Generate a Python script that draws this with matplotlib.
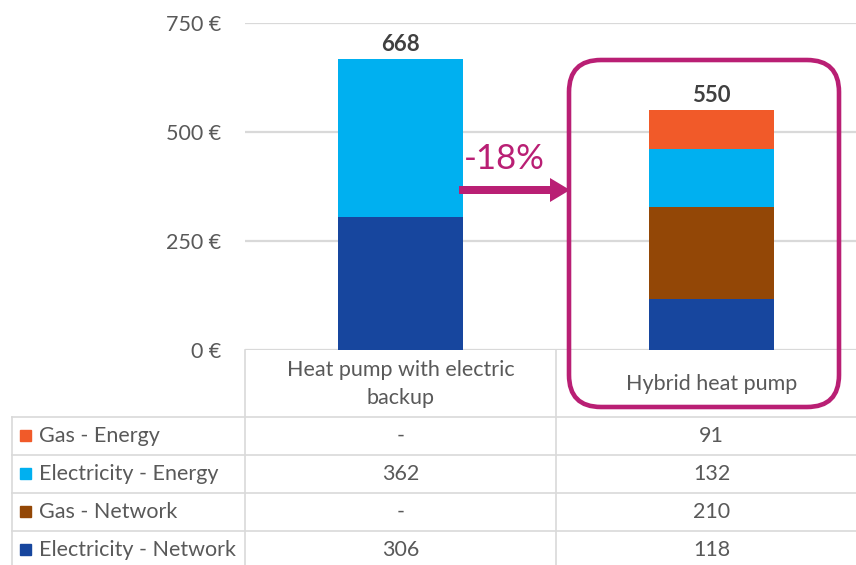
import numpy as np
import matplotlib
matplotlib.use('Agg')
import matplotlib.pyplot as plt
from matplotlib.patches import FancyBboxPatch, FancyArrow, Rectangle

plt.rcParams['font.family'] = ['Lato', 'DejaVu Sans']

# ---- data ----
categories = ['Heat pump with electric\nbackup', 'Hybrid heat pump']
series = ['Electricity - Network', 'Gas - Network', 'Electricity - Energy', 'Gas - Energy']
values = {
    'Electricity - Network': [306, 118],
    'Gas - Network': [0, 210],
    'Electricity - Energy': [362, 132],
    'Gas - Energy': [0, 91],
}
totals = [668, 550]
colors = {
    'Electricity - Network': '#17469e',
    'Gas - Network': '#934706',
    'Electricity - Energy': '#00b0f0',
    'Gas - Energy': '#f15a29',
}
table_order = ['Gas - Energy', 'Electricity - Energy', 'Gas - Network', 'Electricity - Network']
yticks = [0, 250, 500, 750]
change_label = '-18%'

W, H = 856, 565
GRAY = '#595959'
LINE = '#d9d9d9'
MAGENTA = '#b91f74'
FS = 15.5

fig = plt.figure(figsize=(W / 100, H / 100), dpi=100)

# chart axes, placed in pixel terms (extends a bit past right edge, as in the original)
ax_l, ax_r, ax_t, ax_b = 245, 867, 23, 350
ax = fig.add_axes([ax_l / W, (H - ax_b) / H, (ax_r - ax_l) / W, (ax_b - ax_t) / H])

x = np.arange(len(categories))
bottom = np.zeros(len(categories))
for s in series:
    v = np.array(values[s], dtype=float)
    ax.bar(x, v, width=0.4, bottom=bottom, color=colors[s], zorder=3)
    bottom += v

for xi, top, tot in zip(x, bottom, totals):
    ax.text(xi, top + 8, f'{tot}', ha='center', va='bottom', fontsize=16,
            fontweight='bold', color='#404040', zorder=4)

ax.set_xlim(-0.5, 1.5)
ax.set_ylim(0, 750)
ax.set_yticks(yticks)
ax.set_yticklabels([f'{t} €' for t in yticks], color=GRAY, fontsize=FS)
ax.tick_params(axis='y', length=0, pad=17)
ax.set_xticks([])
ax.grid(axis='y', color=LINE, lw=1.6, zorder=0)
for sp in ax.spines.values():
    sp.set_visible(False)

# overlay in pixel coordinates for the data table and annotations
ov = fig.add_axes([0, 0, 1, 1])
ov.set_xlim(0, W)
ov.set_ylim(H, 0)
ov.axis('off')

col_edges = [245, 556, 867]
col_centers = [(col_edges[i] + col_edges[i + 1]) / 2 for i in range(2)]
row_lines = [417, 455, 493, 531]
row_h = 38
lw_tab = 1.2

# table lines
for y in row_lines:
    ov.plot([12, W], [y, y], color=LINE, lw=lw_tab)
ov.plot([12, 12], [row_lines[0], H], color=LINE, lw=lw_tab)
for xe in col_edges[:2]:
    ov.plot([xe, xe], [350, H], color=LINE, lw=lw_tab)

# header labels
for cx, lab in zip(col_centers, categories):
    ov.text(cx, 384, lab, ha='center', va='center', fontsize=FS, color=GRAY,
            linespacing=1.55)

# rows
for y0, s in zip(row_lines, table_order):
    yc = y0 + row_h / 2
    ov.add_patch(Rectangle((20, yc - 6), 11, 11, color=colors[s]))
    ov.text(39, yc, s, ha='left', va='center', fontsize=FS, color=GRAY)
    for cx, v in zip(col_centers, values[s]):
        ov.text(cx, yc, '-' if v == 0 else f'{v}', ha='center', va='center',
                fontsize=FS, color=GRAY)

# highlight box and arrow
ov.add_patch(FancyBboxPatch((569, 60), 270, 347,
                            boxstyle='round,pad=0,rounding_size=32',
                            fill=False, ec=MAGENTA, lw=3.3))
ov.add_patch(FancyArrow(459, 190, 111, 0, width=8, head_width=24, head_length=20,
                        length_includes_head=True, color=MAGENTA, lw=0))
ov.text(504, 159, change_label, ha='center', va='center', fontsize=25, color=MAGENTA)

fig.savefig('out.png', dpi=100)
